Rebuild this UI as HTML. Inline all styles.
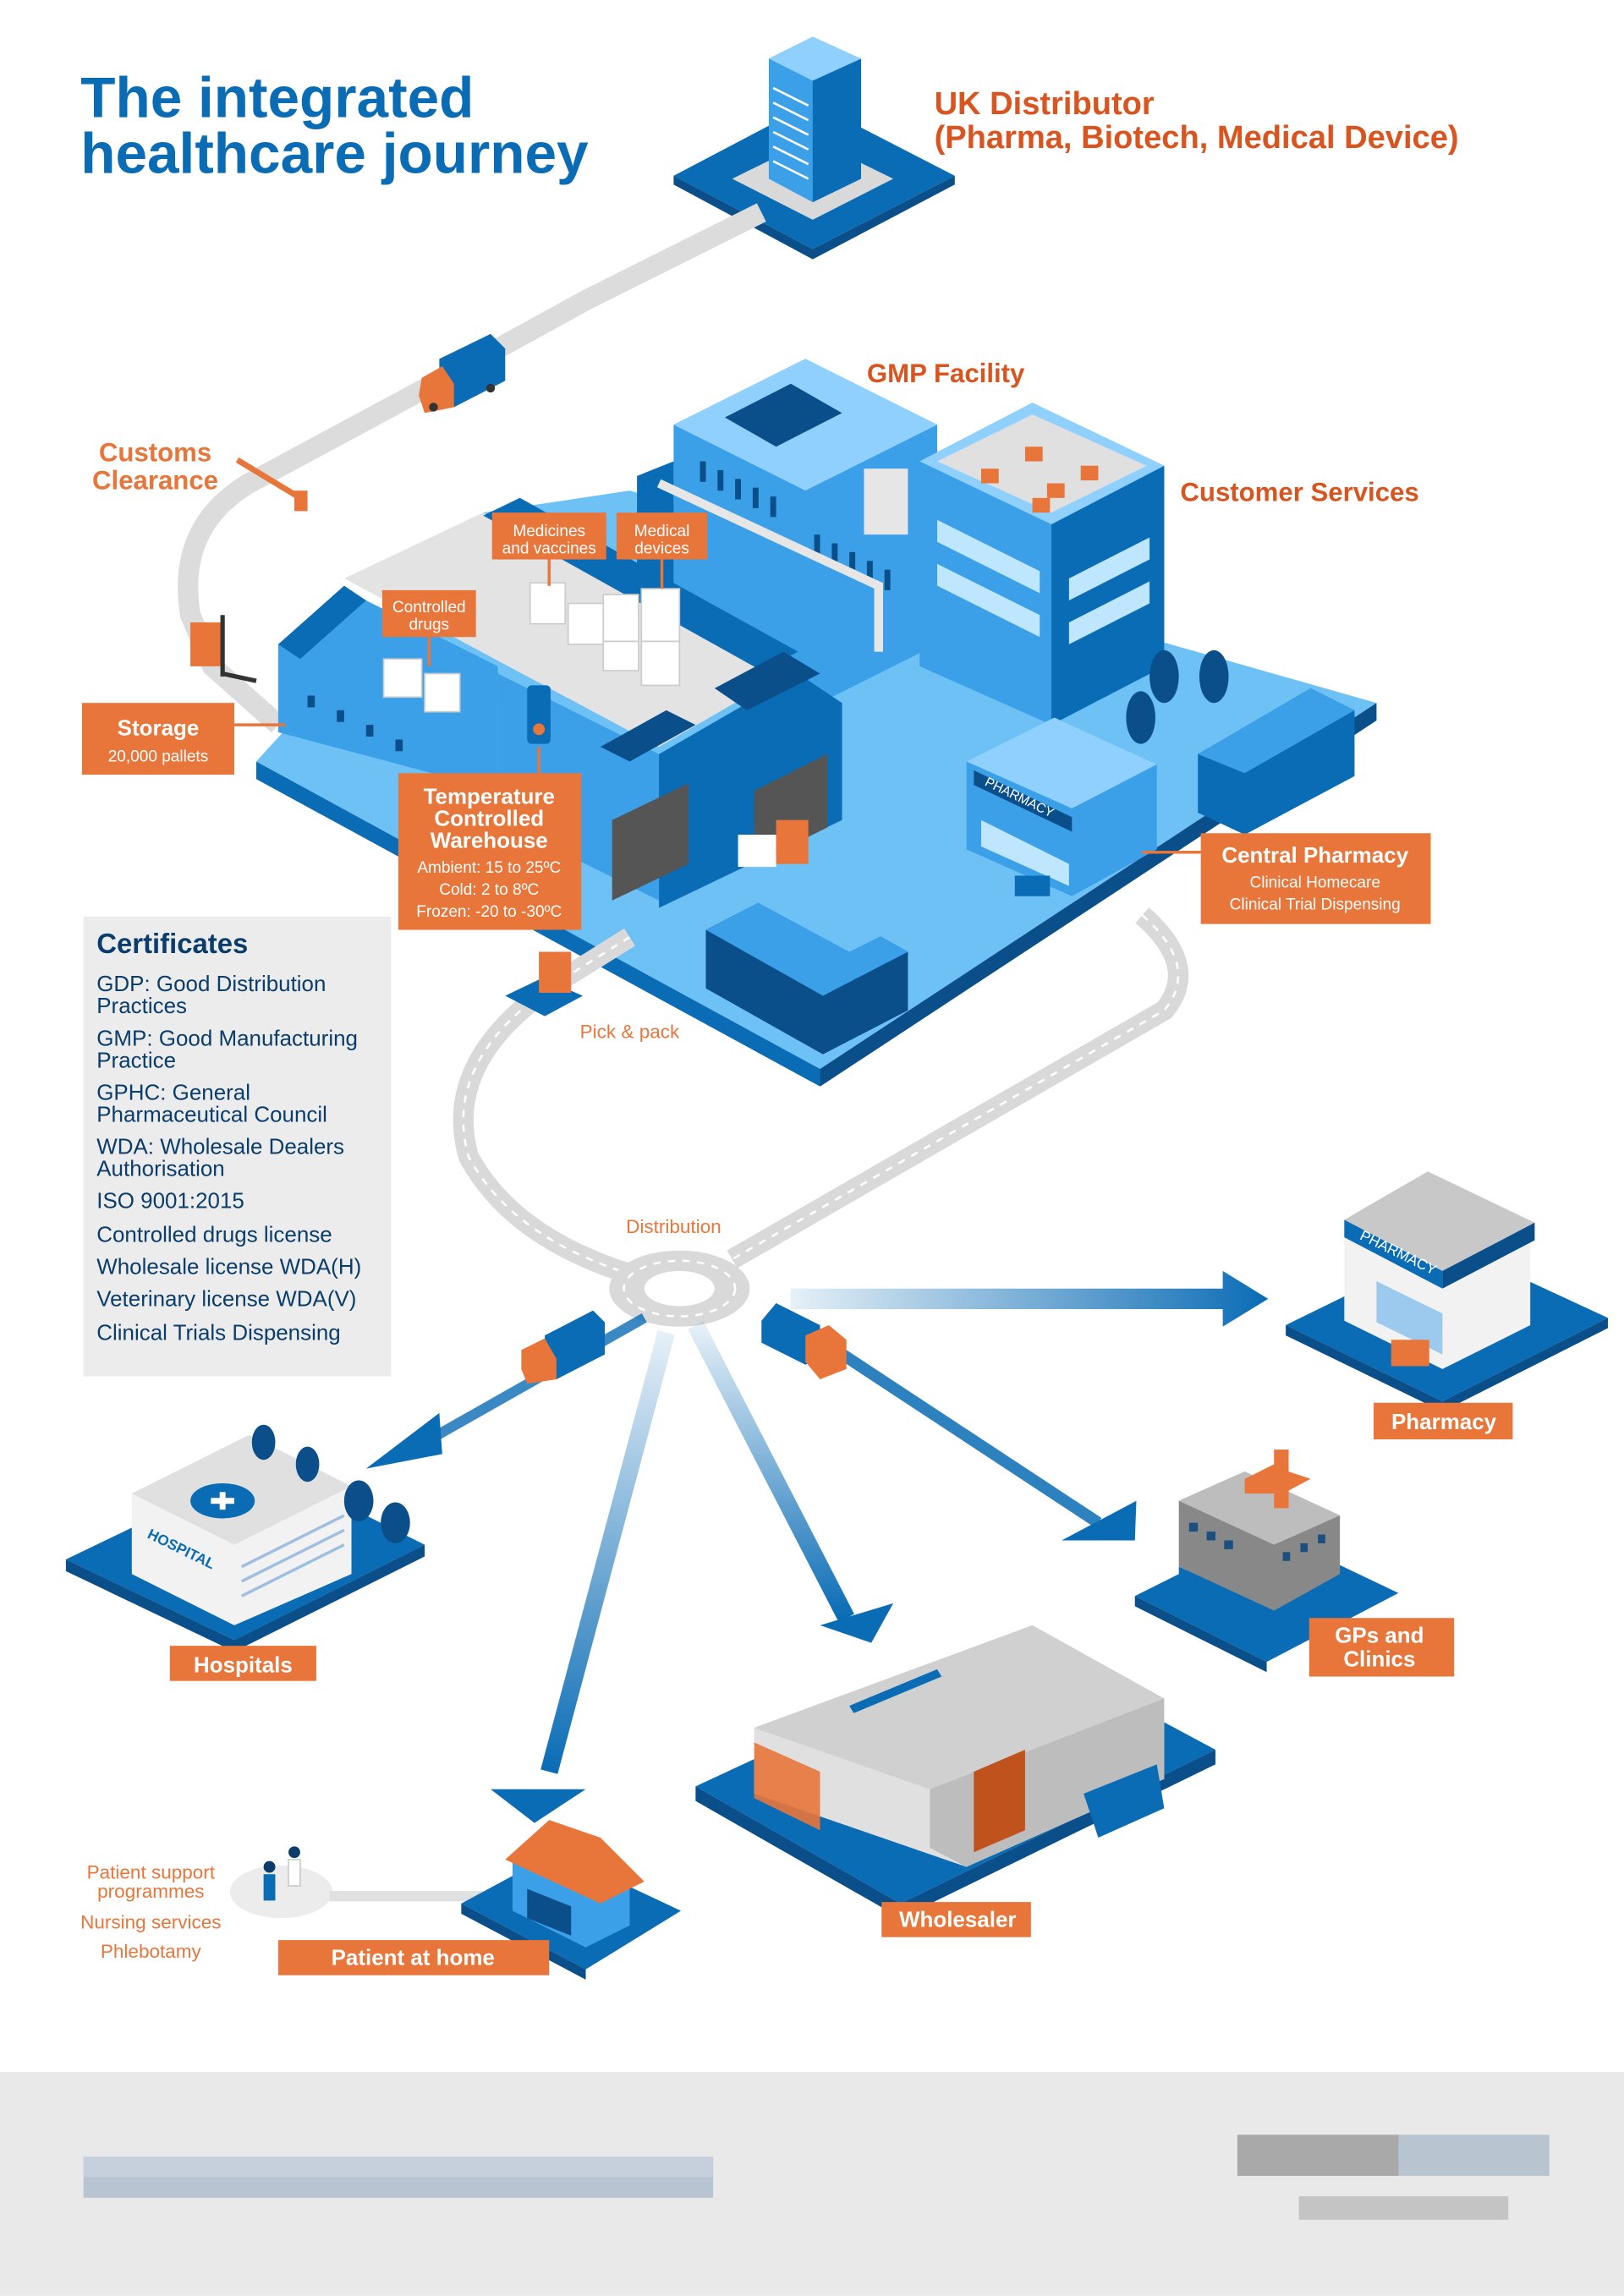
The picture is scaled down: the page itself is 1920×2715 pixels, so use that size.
<!DOCTYPE html>
<html><head><meta charset="utf-8">
<style>
html,body{margin:0;padding:0;background:#fff;}
svg{display:block;}
text{font-family:"Liberation Sans",sans-serif;}
</style></head>
<body>
<svg width="1920" height="2715" viewBox="0 0 1109 1568" xmlns="http://www.w3.org/2000/svg">
<defs>
<linearGradient id="gR" x1="0" y1="0" x2="1" y2="0"><stop offset="0" stop-color="#0a6cb5" stop-opacity="0.1"/><stop offset="1" stop-color="#0a6cb5"/></linearGradient>
<linearGradient id="gD" x1="0" y1="0" x2="0" y2="1"><stop offset="0" stop-color="#0a6cb5" stop-opacity="0.1"/><stop offset="1" stop-color="#0a6cb5"/></linearGradient>
</defs>
<rect width="1109" height="1568" fill="#fff"/>

<text x="55" y="80" font-size="39" font-weight="bold" fill="#0a6cb5">The integrated</text>
<text x="55" y="118" font-size="39" font-weight="bold" fill="#0a6cb5">healthcare journey</text>

<text x="638" y="78" font-size="22" font-weight="bold" fill="#d9541e">UK Distributor</text>
<text x="638" y="101" font-size="22" font-weight="bold" fill="#d9541e">(Pharma, Biotech, Medical Device)</text>
<polygon points="555,70 652,120 555,170 460,120" fill="#0a6cb5"/>
<polygon points="555,170 652,120 652,126 555,177 460,126 460,120" fill="#0a4f8a"/>
<polygon points="555,95 610,122 555,150 500,122" fill="#d9d9d9"/>
<polygon points="525,40 555,25 588,40 588,122 555,138 525,122" fill="#3ca0e8"/>
<polygon points="555,55 588,40 588,122 555,138" fill="#0a6cb5"/>
<polygon points="525,40 555,25 588,40 555,55" fill="#8fd0ff"/>
<g stroke="#fff" stroke-width="1.5"><line x1="528" y1="60" x2="552" y2="72"/><line x1="528" y1="70" x2="552" y2="82"/><line x1="528" y1="80" x2="552" y2="92"/><line x1="528" y1="90" x2="552" y2="102"/><line x1="528" y1="100" x2="552" y2="112"/><line x1="528" y1="110" x2="552" y2="122"/></g>

<path d="M520,145 L400,205 L300,260 L170,330 Q120,360 130,420 L145,455 L190,495" stroke="#dcdcdc" stroke-width="14" fill="none"/>
<polygon points="300,245 335,228 345,238 345,260 310,278 300,270" fill="#0a6cb5"/>
<polygon points="288,258 302,250 310,262 310,278 290,282 286,270" fill="#e8753a"/>
<circle cx="296" cy="278" r="3" fill="#333"/><circle cx="335" cy="265" r="3" fill="#333"/>
<text x="106" y="315" font-size="18" font-weight="bold" fill="#e8753a" text-anchor="middle">Customs</text>
<text x="106" y="334" font-size="18" font-weight="bold" fill="#e8753a" text-anchor="middle">Clearance</text>
<line x1="162" y1="314" x2="205" y2="340" stroke="#e8753a" stroke-width="4"/>
<rect x="201" y="335" width="9" height="14" fill="#e8753a"/>
<rect x="130" y="425" width="22" height="30" fill="#e8753a"/>
<line x1="152" y1="420" x2="152" y2="462" stroke="#333" stroke-width="3"/>
<line x1="152" y1="460" x2="175" y2="465" stroke="#333" stroke-width="3"/>

<polygon points="430,335 940,480 560,730 175,520 330,350" fill="#6ec1f5"/>
<polygon points="175,520 560,730 560,742 175,532" fill="#0a6cb5"/>
<polygon points="560,730 940,480 940,492 560,742" fill="#0a4f8a"/>

<polygon points="460,290 550,245 640,290 640,440 550,485 460,440" fill="#3ca0e8"/>
<polygon points="460,290 550,245 640,290 550,335" fill="#8fd0ff"/>
<polygon points="495,285 540,262 575,282 530,305" fill="#0a4f8a"/>
<polygon points="435,325 460,315 460,440 435,425" fill="#0a6cb5"/>
<g fill="#0a4f8a"><rect x="478" y="315" width="4" height="14"/><rect x="490" y="321" width="4" height="14"/><rect x="502" y="327" width="4" height="14"/><rect x="514" y="333" width="4" height="14"/><rect x="526" y="339" width="4" height="14"/><rect x="556" y="365" width="4" height="14"/><rect x="568" y="371" width="4" height="14"/><rect x="580" y="377" width="4" height="14"/><rect x="592" y="383" width="4" height="14"/><rect x="604" y="389" width="4" height="14"/></g>
<rect x="590" y="320" width="30" height="45" fill="#e6e6e6"/>
<path d="M450,330 L600,400 L600,445" stroke="#e6e6e6" stroke-width="6" fill="none"/>
<polygon points="628,315 705,275 795,318 795,455 718,495 628,455" fill="#3ca0e8"/>
<polygon points="718,358 795,318 795,455 718,495" fill="#0a6cb5"/>
<polygon points="628,315 705,275 795,318 718,358" fill="#8fd0ff"/>
<polygon points="640,315 705,283 783,318 718,350" fill="#e0e0e0"/>
<g fill="#e8753a"><rect x="670" y="320" width="12" height="10"/><rect x="700" y="305" width="12" height="10"/><rect x="715" y="330" width="12" height="10"/><rect x="738" y="318" width="12" height="10"/><rect x="705" y="340" width="12" height="10"/></g>
<g fill="#bfe6ff"><polygon points="640,355 710,390 710,405 640,370"/><polygon points="640,385 710,420 710,435 640,400"/><polygon points="730,395 785,367 785,382 730,410"/><polygon points="730,425 785,397 785,412 730,440"/></g>
<text x="806" y="342" font-size="18" font-weight="bold" fill="#d9541e">Customer Services</text>
<text x="592" y="261" font-size="18" font-weight="bold" fill="#d9541e">GMP Facility</text>
<g fill="#0a4f8a"><ellipse cx="795" cy="462" rx="10" ry="18"/><ellipse cx="829" cy="462" rx="10" ry="18"/><ellipse cx="779" cy="490" rx="10" ry="18"/></g>
<polygon points="818,515 895,470 925,485 925,530 850,570 818,555" fill="#0a6cb5"/>
<polygon points="818,515 895,470 925,485 850,528" fill="#3ca0e8"/>
<polygon points="482,635 540,605 620,650 620,690 562,720 482,675" fill="#0a4f8a"/>
<polygon points="482,635 540,605 620,650 562,680" fill="#3ca0e8"/>
<polygon points="515,615 555,595 620,630 580,650" fill="#6ec1f5"/>

<polygon points="190,440 240,405 340,455 340,540 190,500" fill="#3ca0e8"/>
<polygon points="235,395 330,350 545,455 450,510" fill="#e3e3e3"/>
<polygon points="190,440 235,400 250,410 205,450" fill="#0a6cb5"/>
<polygon points="330,352 355,340 545,445 520,458" fill="#0a6cb5"/>
<polygon points="340,460 450,515 450,615 340,560" fill="#3ca0e8"/>
<polygon points="450,515 545,460 575,480 575,560 450,620" fill="#0a6cb5"/>
<polygon points="410,510 455,485 475,495 430,520" fill="#0a4f8a"/>
<polygon points="488,470 535,445 560,460 510,485" fill="#0a4f8a"/>
<polygon points="418,560 470,535 470,590 418,615" fill="#555"/>
<polygon points="515,540 565,515 565,565 515,590" fill="#555"/>
<g fill="#0a4f8a"><rect x="210" y="475" width="5" height="8"/><rect x="230" y="485" width="5" height="8"/><rect x="250" y="495" width="5" height="8"/><rect x="270" y="505" width="5" height="8"/></g>
<rect x="360" y="468" width="16" height="40" rx="3" fill="#0a6cb5"/>
<circle cx="368" cy="498" r="4" fill="#e8753a"/>
<g fill="#fff" stroke="#ccc"><rect x="262" y="450" width="26" height="26"/><rect x="290" y="460" width="24" height="26"/><rect x="362" y="398" width="24" height="28"/><rect x="388" y="412" width="24" height="28"/><rect x="412" y="406" width="24" height="32"/><rect x="438" y="402" width="26" height="36"/><rect x="438" y="438" width="26" height="30"/><rect x="412" y="438" width="24" height="20"/></g>
<rect x="504" y="570" width="26" height="22" fill="#fff"/>
<rect x="530" y="560" width="22" height="30" fill="#e8753a"/>

<polygon points="660,520 720,490 790,522 790,580 732,612 660,580" fill="#3ca0e8"/>
<polygon points="660,520 720,490 790,522 732,552" fill="#8fd0ff"/>
<polygon points="670,560 730,590 730,605 670,578" fill="#bfe6ff"/>
<polygon points="665,526 732,558 732,568 665,536" fill="#0a4f8a"/>
<text x="672" y="536" font-size="9" fill="#fff" transform="rotate(26 672 536)">PHARMACY</text>
<rect x="693" y="598" width="24" height="14" fill="#0a6cb5"/>

<line x1="375" y1="380" x2="375" y2="400" stroke="#e8753a" stroke-width="2"/>
<rect x="336" y="350" width="78" height="32" fill="#e8753a"/>
<text x="375" y="366" font-size="11" fill="#fff" text-anchor="middle">Medicines</text>
<text x="375" y="378" font-size="11" fill="#fff" text-anchor="middle">and vaccines</text>
<line x1="452" y1="382" x2="452" y2="402" stroke="#e8753a" stroke-width="2"/>
<rect x="421" y="350" width="62" height="32" fill="#e8753a"/>
<text x="452" y="366" font-size="11" fill="#fff" text-anchor="middle">Medical</text>
<text x="452" y="378" font-size="11" fill="#fff" text-anchor="middle">devices</text>
<line x1="293" y1="435" x2="293" y2="455" stroke="#e8753a" stroke-width="2"/>
<rect x="261" y="403" width="64" height="32" fill="#e8753a"/>
<text x="293" y="418" font-size="11" fill="#fff" text-anchor="middle">Controlled</text>
<text x="293" y="430" font-size="11" fill="#fff" text-anchor="middle">drugs</text>

<line x1="160" y1="495" x2="195" y2="495" stroke="#e8753a" stroke-width="2"/>
<rect x="56" y="480" width="104" height="49" fill="#e8753a"/>
<text x="108" y="502" font-size="15" font-weight="bold" fill="#fff" text-anchor="middle">Storage</text>
<text x="108" y="520" font-size="11" fill="#fff" text-anchor="middle">20,000 pallets</text>

<line x1="368" y1="510" x2="368" y2="528" stroke="#e8753a" stroke-width="2"/>
<rect x="272" y="528" width="125" height="107" fill="#e8753a"/>
<text x="334" y="549" font-size="15" font-weight="bold" fill="#fff" text-anchor="middle">Temperature</text>
<text x="334" y="564" font-size="15" font-weight="bold" fill="#fff" text-anchor="middle">Controlled</text>
<text x="334" y="579" font-size="15" font-weight="bold" fill="#fff" text-anchor="middle">Warehouse</text>
<text x="334" y="596" font-size="11" fill="#fff" text-anchor="middle">Ambient: 15 to 25ºC</text>
<text x="334" y="611" font-size="11" fill="#fff" text-anchor="middle">Cold: 2 to 8ºC</text>
<text x="334" y="626" font-size="11" fill="#fff" text-anchor="middle">Frozen: -20 to -30ºC</text>

<line x1="780" y1="582" x2="820" y2="582" stroke="#e8753a" stroke-width="2"/>
<rect x="820" y="569" width="157" height="62" fill="#e8753a"/>
<text x="898" y="589" font-size="15" font-weight="bold" fill="#fff" text-anchor="middle">Central Pharmacy</text>
<text x="898" y="606" font-size="11" fill="#fff" text-anchor="middle">Clinical Homecare</text>
<text x="898" y="621" font-size="11" fill="#fff" text-anchor="middle">Clinical Trial Dispensing</text>

<path d="M430,640 L390,665 Q300,720 320,790 Q350,845 430,870" stroke="#d9d9d9" stroke-width="14" fill="none"/>
<path d="M430,640 L390,665 Q300,720 320,790 Q350,845 430,870" stroke="#fff" stroke-width="1.5" stroke-dasharray="5,5" fill="none"/>
<path d="M780,625 Q820,660 795,690 L500,860" stroke="#d9d9d9" stroke-width="14" fill="none"/>
<path d="M780,625 Q820,660 795,690 L500,860" stroke="#fff" stroke-width="1.5" stroke-dasharray="5,5" fill="none"/>
<ellipse cx="464" cy="880" rx="48" ry="26" fill="#d9d9d9"/>
<ellipse cx="464" cy="880" rx="38" ry="19" fill="none" stroke="#fff" stroke-width="1.5" stroke-dasharray="5,5"/>
<ellipse cx="464" cy="880" rx="24" ry="12" fill="#fff"/>
<text x="460" y="842" font-size="13" fill="#e8753a" text-anchor="middle">Distribution</text>
<text x="430" y="709" font-size="13" fill="#e8753a" text-anchor="middle">Pick &amp; pack</text>
<polygon points="345,680 370,668 398,680 372,694" fill="#0a6cb5"/>
<rect x="368" y="650" width="22" height="28" fill="#e8753a"/>

<rect x="57" y="626" width="210" height="314" fill="#ececec"/>
<text x="66" y="651" font-size="19" font-weight="bold" fill="#0a3d6b">Certificates</text>
<g font-size="15" fill="#0a3d6b">
<text x="66" y="677">GDP: Good Distribution</text><text x="66" y="692">Practices</text>
<text x="66" y="714">GMP: Good Manufacturing</text><text x="66" y="729">Practice</text>
<text x="66" y="751">GPHC: General</text><text x="66" y="766">Pharmaceutical Council</text>
<text x="66" y="788">WDA: Wholesale Dealers</text><text x="66" y="803">Authorisation</text>
<text x="66" y="825">ISO 9001:2015</text>
<text x="66" y="848">Controlled drugs license</text>
<text x="66" y="870">Wholesale license WDA(H)</text>
<text x="66" y="892">Veterinary license WDA(V)</text>
<text x="66" y="915">Clinical Trials Dispensing</text>
</g>

<polygon points="540,880 835,880 835,868 866,887 835,906 835,894 540,894" fill="url(#gR)"/>
<g>
<path d="M440,900 L290,985" stroke="#0a6cb5" stroke-width="7" opacity="0.8"/>
<polygon points="250,1003 300,965 302,993" fill="#0a6cb5"/>
<path d="M455,910 L375,1210" stroke="url(#gD)" stroke-width="12"/>
<polygon points="335,1222 400,1222 365,1245" fill="#0a6cb5"/>
<path d="M475,905 L578,1105" stroke="url(#gD)" stroke-width="12"/>
<polygon points="560,1110 610,1095 595,1122" fill="#0a6cb5"/>
<path d="M545,905 L750,1040" stroke="#0a6cb5" stroke-width="8" opacity="0.85"/>
<polygon points="725,1052 776,1025 775,1052" fill="#0a6cb5"/>
</g>
<polygon points="372,912 405,895 413,903 413,925 380,942 372,935" fill="#0a6cb5"/>
<polygon points="356,922 372,914 380,928 380,942 360,945 356,935" fill="#e8753a"/>
<polygon points="520,902 530,890 560,905 560,927 550,932 520,917" fill="#0a6cb5"/>
<polygon points="550,912 566,905 578,915 578,935 560,942 550,930" fill="#e8753a"/>

<polygon points="878,905 990,850 1098,900 985,957" fill="#0a6cb5"/>
<polygon points="878,905 985,957 985,964 878,912" fill="#0a4f8a"/>
<polygon points="985,957 1098,900 1098,907 985,964" fill="#0a4f8a"/>
<polygon points="918,840 975,812 1045,845 1045,905 985,935 918,902" fill="#f2f2f2"/>
<polygon points="918,833 975,800 1048,835 985,868" fill="#c8c8c8"/>
<polygon points="918,833 985,868 985,880 918,845" fill="#0a6cb5"/>
<polygon points="985,868 1048,835 1048,847 985,880" fill="#0a4f8a"/>
<text x="928" y="846" font-size="10" fill="#fff" transform="rotate(26 928 846)">PHARMACY</text>
<polygon points="940,875 985,897 985,925 940,903" fill="#9cc9ee"/>
<rect x="950" y="915" width="26" height="18" fill="#e8753a"/>
<rect x="938" y="958" width="95" height="25" fill="#e8753a"/>
<text x="986" y="976" font-size="15" font-weight="bold" fill="#fff" text-anchor="middle">Pharmacy</text>

<polygon points="45,1065 180,1000 290,1055 160,1120" fill="#0a6cb5"/>
<polygon points="45,1065 160,1120 160,1128 45,1073" fill="#0a4f8a"/>
<polygon points="160,1120 290,1055 290,1063 160,1128" fill="#0a4f8a"/>
<polygon points="90,1020 170,980 240,1015 240,1075 160,1110 90,1075" fill="#f2f2f2"/>
<polygon points="90,1020 170,980 240,1015 160,1055" fill="#e0e0e0"/>
<ellipse cx="152" cy="1025" rx="22" ry="12" fill="#0a6cb5"/>
<path d="M144,1025 L160,1025 M152,1019 L152,1031" stroke="#fff" stroke-width="4"/>
<g fill="#0a4f8a"><ellipse cx="180" cy="985" rx="8" ry="12"/><ellipse cx="210" cy="1000" rx="8" ry="12"/><ellipse cx="245" cy="1025" rx="10" ry="14"/><ellipse cx="270" cy="1040" rx="10" ry="14"/></g>
<text x="100" y="1050" font-size="10" font-weight="bold" fill="#0a6cb5" transform="rotate(26 100 1050)">HOSPITAL</text>
<g stroke="#9fbfe0" stroke-width="2"><line x1="165" y1="1070" x2="235" y2="1035"/><line x1="165" y1="1080" x2="235" y2="1045"/><line x1="165" y1="1090" x2="235" y2="1055"/></g>
<rect x="116" y="1124" width="100" height="24" fill="#e8753a"/>
<text x="166" y="1142" font-size="15" font-weight="bold" fill="#fff" text-anchor="middle">Hospitals</text>

<polygon points="775,1090 865,1045 955,1088 865,1135" fill="#0a6cb5"/>
<polygon points="775,1090 865,1135 865,1142 775,1097" fill="#0a4f8a"/>
<polygon points="805,1025 850,1005 915,1035 915,1075 870,1100 805,1070" fill="#888"/>
<polygon points="805,1025 850,1005 915,1035 870,1055" fill="#bdbdbd"/>
<polygon points="850,1010 870,1000 870,990 880,990 880,1005 895,1010 880,1018 880,1030 870,1030 870,1020 850,1020" fill="#e8753a"/>
<g fill="#1a4f80"><rect x="812" y="1040" width="6" height="6"/><rect x="824" y="1046" width="6" height="6"/><rect x="836" y="1052" width="6" height="6"/><rect x="876" y="1060" width="5" height="6"/><rect x="888" y="1054" width="5" height="6"/><rect x="900" y="1048" width="5" height="6"/></g>
<polygon points="805,1070 870,1100 870,1110 805,1080" fill="#0a6cb5"/>
<rect x="894" y="1105" width="99" height="40" fill="#e8753a"/>
<text x="942" y="1122" font-size="15" font-weight="bold" fill="#fff" text-anchor="middle">GPs and</text>
<text x="942" y="1138" font-size="15" font-weight="bold" fill="#fff" text-anchor="middle">Clinics</text>

<polygon points="475,1220 690,1120 830,1195 615,1300" fill="#0a6cb5"/>
<polygon points="475,1220 615,1300 615,1310 475,1230" fill="#0a4f8a"/>
<polygon points="615,1300 830,1195 830,1205 615,1310" fill="#0a4f8a"/>
<polygon points="515,1180 705,1110 795,1160 795,1215 660,1275 515,1225" fill="#e0e0e0"/>
<polygon points="515,1180 705,1110 795,1160 635,1222" fill="#d0d0d0"/>
<polygon points="635,1222 795,1160 795,1215 660,1275 635,1262" fill="#bdbdbd"/>
<polygon points="580,1165 640,1140 643,1145 583,1170" fill="#0a6cb5"/>
<polygon points="515,1190 560,1210 560,1250 515,1228" fill="#e8753a" opacity="0.9"/>
<polygon points="665,1210 700,1195 700,1250 665,1265" fill="#c0521d"/>
<polygon points="740,1225 790,1205 795,1235 750,1255" fill="#0a6cb5"/>
<rect x="602" y="1299" width="102" height="24" fill="#e8753a"/>
<text x="654" y="1316" font-size="15" font-weight="bold" fill="#fff" text-anchor="middle">Wholesaler</text>

<ellipse cx="192" cy="1292" rx="35" ry="18" fill="#ececec"/>
<line x1="225" y1="1295" x2="330" y2="1295" stroke="#e0e0e0" stroke-width="7"/>
<circle cx="184" cy="1275" r="4" fill="#0a3d6b"/><rect x="180" y="1280" width="8" height="18" fill="#0a6cb5"/>
<circle cx="201" cy="1265" r="4" fill="#0a3d6b"/><rect x="197" y="1270" width="8" height="18" fill="#fff" stroke="#ccc"/>
<polygon points="315,1300 380,1265 465,1305 400,1345" fill="#0a6cb5"/>
<polygon points="315,1300 400,1345 400,1352 315,1307" fill="#0a4f8a"/>
<polygon points="350,1270 380,1255 430,1275 430,1315 400,1330 350,1305" fill="#3ca0e8"/>
<polygon points="345,1270 375,1243 410,1255 440,1285 410,1300" fill="#e8753a"/>
<polygon points="360,1290 390,1302 390,1322 360,1310" fill="#0a4f8a"/>
<g font-size="13" fill="#e8753a" text-anchor="middle"><text x="103" y="1283">Patient support</text><text x="103" y="1296">programmes</text><text x="103" y="1317">Nursing services</text><text x="103" y="1337">Phlebotamy</text></g>
<rect x="190" y="1325" width="185" height="24" fill="#e8753a"/>
<text x="282" y="1342" font-size="15" font-weight="bold" fill="#fff" text-anchor="middle">Patient at home</text>

<rect x="0" y="1415" width="1109" height="153" fill="#e9e9e9"/>
<rect x="57" y="1473" width="430" height="28" fill="#b9c4d2"/>
<rect x="57" y="1473" width="430" height="14" fill="#c6d0dc"/>
<rect x="845" y="1458" width="213" height="28" fill="#b8c4d0"/>
<rect x="845" y="1458" width="110" height="28" fill="#a9a9a9"/>
<rect x="887" y="1500" width="143" height="16" fill="#c4c4c4"/>
</svg>
</body></html>
